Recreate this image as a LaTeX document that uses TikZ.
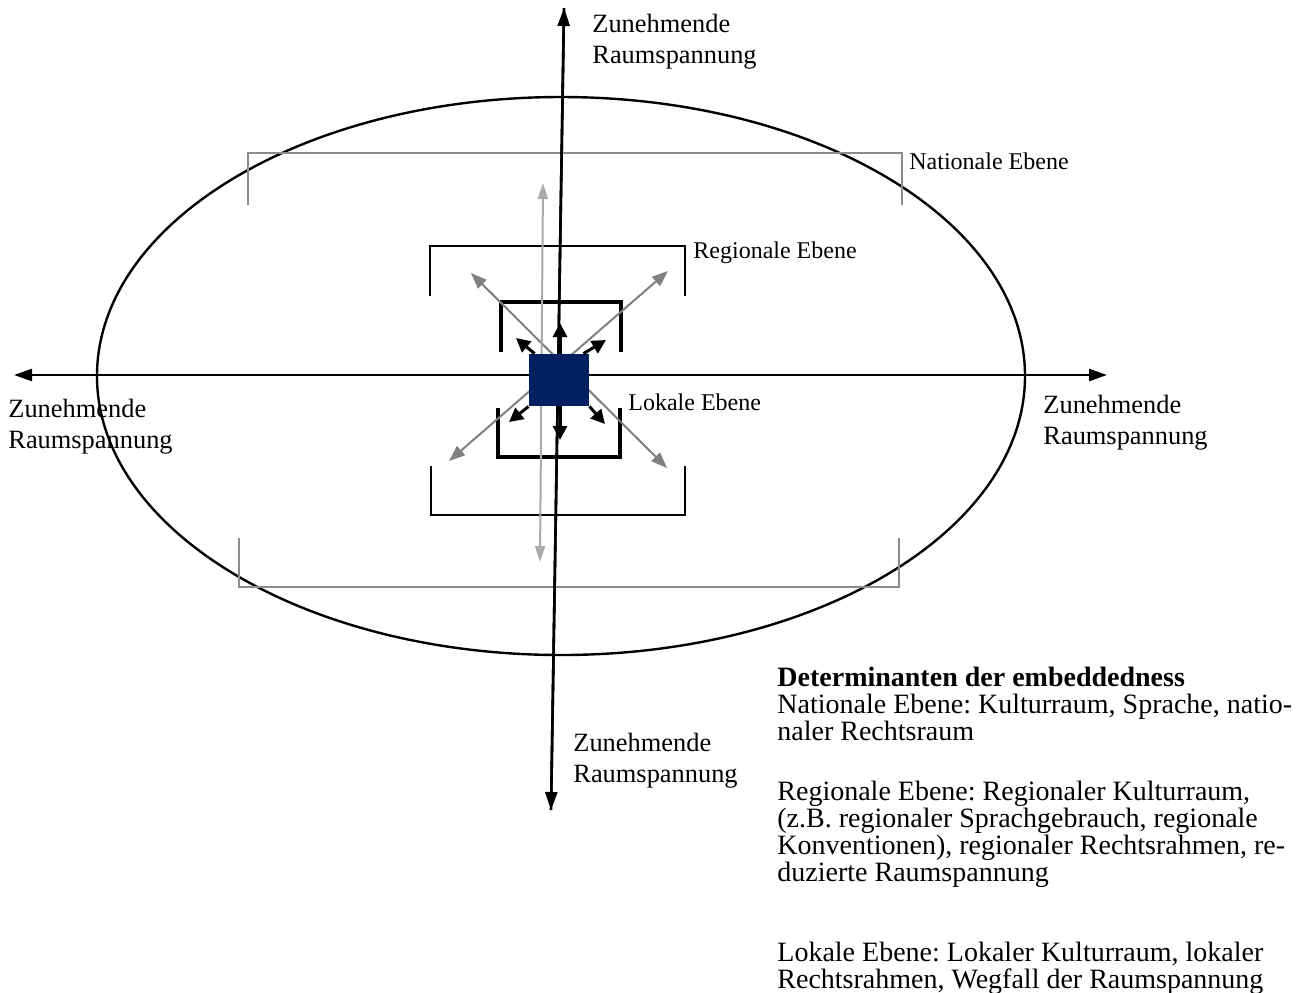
\documentclass[tikz,border=0pt]{standalone}
\usepackage{fontspec}
\setmainfont{Liberation Serif}
\frenchspacing
\usetikzlibrary{arrows.meta}
\definecolor{navy}{RGB}{0,32,96}
\definecolor{natgray}{RGB}{140,140,140}
\definecolor{diaggray}{RGB}{128,128,128}
\definecolor{lightgray2}{RGB}{170,170,170}
\tikzset{
  axis/.style={line width=1.3pt,-{Triangle[length=9pt,width=6pt]}},
  natbr/.style={draw=natgray,line width=1pt},
  regbr/.style={draw=black,line width=1.3pt},
  lokbr/.style={draw=black,line width=1.8pt},
  diagarrow/.style={draw=diaggray,line width=1pt,{Triangle[length=8pt,width=6pt]}-{Triangle[length=8pt,width=6pt]}},
  lightarrow/.style={draw=lightgray2,line width=1pt,{Triangle[length=8pt,width=5pt]}-{Triangle[length=8pt,width=5pt]}},
  shortarrow/.style={line width=1.5pt,-{Triangle[length=7pt,width=7pt]}},
  axlabel/.style={anchor=base west,align=left,inner sep=0pt,font=\fontsize{13.2}{15.5}\selectfont},
  lvlabel/.style={anchor=base west,inner sep=0pt,font=\fontsize{12}{14}\selectfont},
  legend/.style={anchor=base west,align=left,inner sep=0pt,font=\fontsize{14}{13.5}\selectfont},
}
\begin{document}
\begin{tikzpicture}[x=0.5pt,y=-0.5pt]
\useasboundingbox (0,0) rectangle (1309,992);
% ellipse
\draw[line width=1.2pt] (561,376) ellipse [x radius=464, y radius=279];
% national bracket
\draw[natbr] (248,205) -- (248,153) -- (902,153) -- (902,205);
\draw[natbr] (239,538) -- (239,587) -- (899,587) -- (899,538);
% regional bracket
\draw[regbr] (430,296) -- (430,246) -- (685,246) -- (685,296);
\draw[regbr] (431,466) -- (431,515) -- (685,515) -- (685,466);
% local bracket
\draw[lokbr] (501,352) -- (501,302) -- (621,302) -- (621,352);
\draw[lokbr] (498,408) -- (498,457) -- (620,457) -- (620,408);
% axes
\coordinate (cl) at (97,375);
\coordinate (cr) at (1025,375);
\coordinate (axL) at (14,375);
\coordinate (axR) at (1107,375);
\coordinate (axT) at (564,8);
\coordinate (axB) at (551,810);
\draw[axis] (cr) -- (axR);
\draw[axis] (cl) -- (axL);
\draw[line width=1.3pt] (cl) -- (cr);
\draw[axis] (axB) -- (axT);
\draw[axis] (axT) -- (axB);
% gray arrows
\coordinate (g1a) at (471,273);
\coordinate (g1b) at (667,468);
\coordinate (g2a) at (449,461);
\coordinate (g2b) at (668,271);
\coordinate (l1a) at (543,183);
\coordinate (l1b) at (540,562);
\draw[diagarrow] (g1a) -- (g1b);
\draw[diagarrow] (g2a) -- (g2b);
\draw[lightarrow] (l1a) -- (l1b);
% square
\node[fill=navy,minimum width=30pt,minimum height=26pt,inner sep=0pt] (sq) at (559,380) {};
% short black arrows
\coordinate (sU) at (560,323);
\coordinate (sD) at (560,440);
\coordinate (sUL) at (516,338);
\coordinate (sUR) at (606,340);
\coordinate (sDL) at (509,422);
\coordinate (sDR) at (605,424);
\draw[shortarrow] (sq.north -| sU) -- (sU);
\draw[shortarrow] (sq.south -| sD) -- (sD);
\draw[shortarrow] ([xshift=3pt]sq.north west) -- (sUL);
\draw[shortarrow] ([xshift=-3pt]sq.north east) -- (sUR);
\draw[shortarrow] (sq.south west) -- (sDL);
\draw[shortarrow] (sq.south east) -- (sDR);
% axis labels (base = last line)
\node[axlabel] (tT) at (592,63) {Zunehmende\\Raumspannung};
\node[axlabel] (tL) at (8,448) {Zunehmende\\Raumspannung};
\node[axlabel] (tR) at (1043,444) {Zunehmende\\Raumspannung};
\node[axlabel] (tB) at (573,782) {Zunehmende\\Raumspannung};
% level labels
\node[lvlabel] (nN) at (909,169) {Nationale Ebene};
\node[lvlabel] (nR) at (693,258) {Regionale Ebene};
\node[lvlabel] (nL) at (628,410) {Lokale Ebene};
% legend (base = last line)
\node[legend] (lg1) at (777,740) {\textbf{Determinanten der embeddedness}\\Nationale Ebene: Kulturraum, Sprache, natio-\\naler Rechtsraum};
\node[legend] (lg2) at (777,881) {Regionale Ebene: Regionaler Kulturraum,\\(z.B. regionaler Sprachgebrauch, regionale\\Konventionen), regionaler Rechtsrahmen, re-\\duzierte Raumspannung};
\node[legend] (lg3) at (777,988) {Lokale Ebene: Lokaler Kulturraum, lokaler\\Rechtsrahmen, Wegfall der Raumspannung};
\end{tikzpicture}
\end{document}
